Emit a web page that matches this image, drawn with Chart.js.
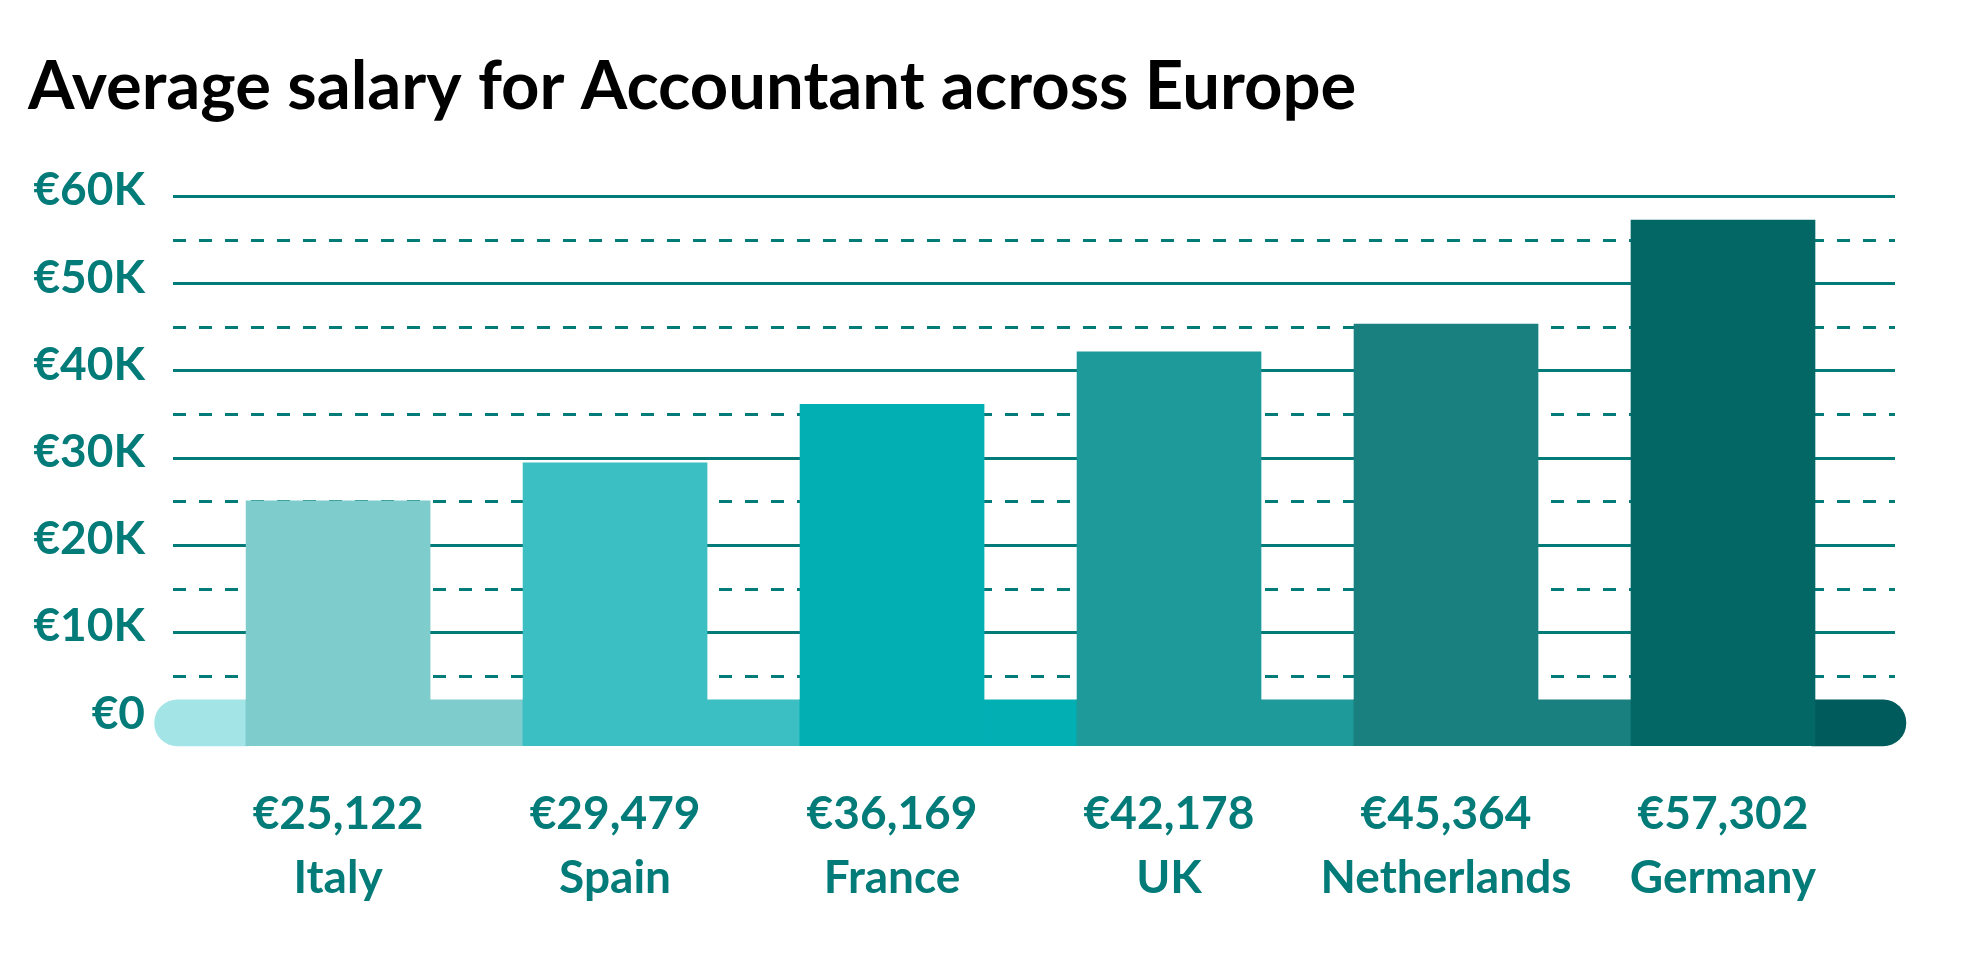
<!DOCTYPE html>
<html>
<head>
<meta charset="utf-8">
<script src="https://cdn.jsdelivr.net/npm/chart.js@4"></script>
<style>
  body { margin: 0; background: #fff; }
  #wrap { width: 1980px; height: 961px; }
</style>
</head>
<body>
<div id="wrap"><canvas id="graficoSalario"></canvas></div>
<script>
// dados
const countries = ['Italy', 'Spain', 'France', 'UK', 'Netherlands', 'Germany'];
const salaries = [25122, 29479, 36169, 42178, 45364, 57302];
const yTicks = [0, 10000, 20000, 30000, 40000, 50000, 60000];
const yTickLabels = ['€0', '€10K', '€20K', '€30K', '€40K', '€50K', '€60K'];

const barColors = ['#7ecccc', '#3bbfc2', '#02b0b4', '#1e9a9a', '#19807f', '#036766'];
const capColors = ['#a3e5e6', '#005b5c'];
const teal = '#037b79';

// faixa da base (abaixo do zero)
const baseLow = -3000;
const baseHigh = 2300;
const barW = 184;   // px
const unitW = 277;  // px por categoria
const segShift = (unitW - barW) / 2 / unitW;

const gridTicks = [];
for (let v = 0; v <= 60000; v += 5000) gridTicks.push(v);

new Chart(document.getElementById('graficoSalario'), {
  type: 'bar',
  data: {
    datasets: [{
      label: 'Average salary',
      data: salaries.map((s, i) => ({ x: i, y: [baseLow, s] })),
      backgroundColor: barColors,
      barThickness: barW,
      grouped: false
    }, {
      label: 'base',
      data: salaries.slice(0, 5).map((s, i) => ({ x: i + segShift, y: [baseLow, baseHigh] })),
      backgroundColor: barColors.slice(0, 5),
      barThickness: unitW,
      grouped: false
    }, {
      label: 'caps',
      data: [{ x: -0.453, y: [baseLow, baseHigh] }, { x: 5.451, y: [baseLow, baseHigh] }],
      backgroundColor: capColors,
      barThickness: 116,
      borderRadius: 23,
      borderSkipped: false,
      grouped: false,
      clip: false
    }]
  },
  options: {
    responsive: true,
    maintainAspectRatio: false,
    animation: false,
    layout: { padding: { left: 28, right: 85, top: 0, bottom: 0 } },
    plugins: {
      legend: { display: false },
      tooltip: { enabled: false },
      title: {
        display: true,
        text: 'Average salary for Accountant across Europe',
        align: 'start',
        color: '#000',
        font: { family: 'Lato', size: 67, weight: 'bold', lineHeight: 1 },
        padding: { top: 54, bottom: 75.5 }
      }
    },
    scales: {
      x: {
        type: 'linear',
        offset: false,
        min: -0.596,
        max: 5.621,
        grid: { display: false },
        border: { display: false },
        afterBuildTicks: s => { s.ticks = countries.map((c, i) => ({ value: i })); },
        afterFit: s => { s.height = 215; },
        ticks: {
          color: teal,
          padding: 28,
          autoSkip: false,
          maxRotation: 0,
          font: { family: 'Lato', size: 46, weight: 'bold', lineHeight: 1.4 },
          callback: v => ['€' + salaries[v].toLocaleString('en-US'), countries[v]]
        }
      },
      y: {
        min: baseLow,
        max: 60000,
        afterBuildTicks: s => { s.ticks = gridTicks.map(v => ({ value: v })); },
        afterFit: s => { s.width = 145; },
        grid: {
          drawTicks: false,
          lineWidth: 3,
          color: ctx => ctx.tick && ctx.tick.value === 0 ? 'rgba(0,0,0,0)' : teal
        },
        border: {
          display: false,
          dash: ctx => ctx.tick && ctx.tick.value % 10000 ? [13, 13] : []
        },
        ticks: {
          color: teal,
          padding: 28,
          autoSkip: false,
          labelOffset: -6,
          font: { family: 'Lato', size: 46, weight: 'bold' },
          callback: v => {
            const k = yTicks.indexOf(v);
            return k >= 0 ? yTickLabels[k] : '';
          }
        }
      }
    }
  }
});
</script>
</body>
</html>
